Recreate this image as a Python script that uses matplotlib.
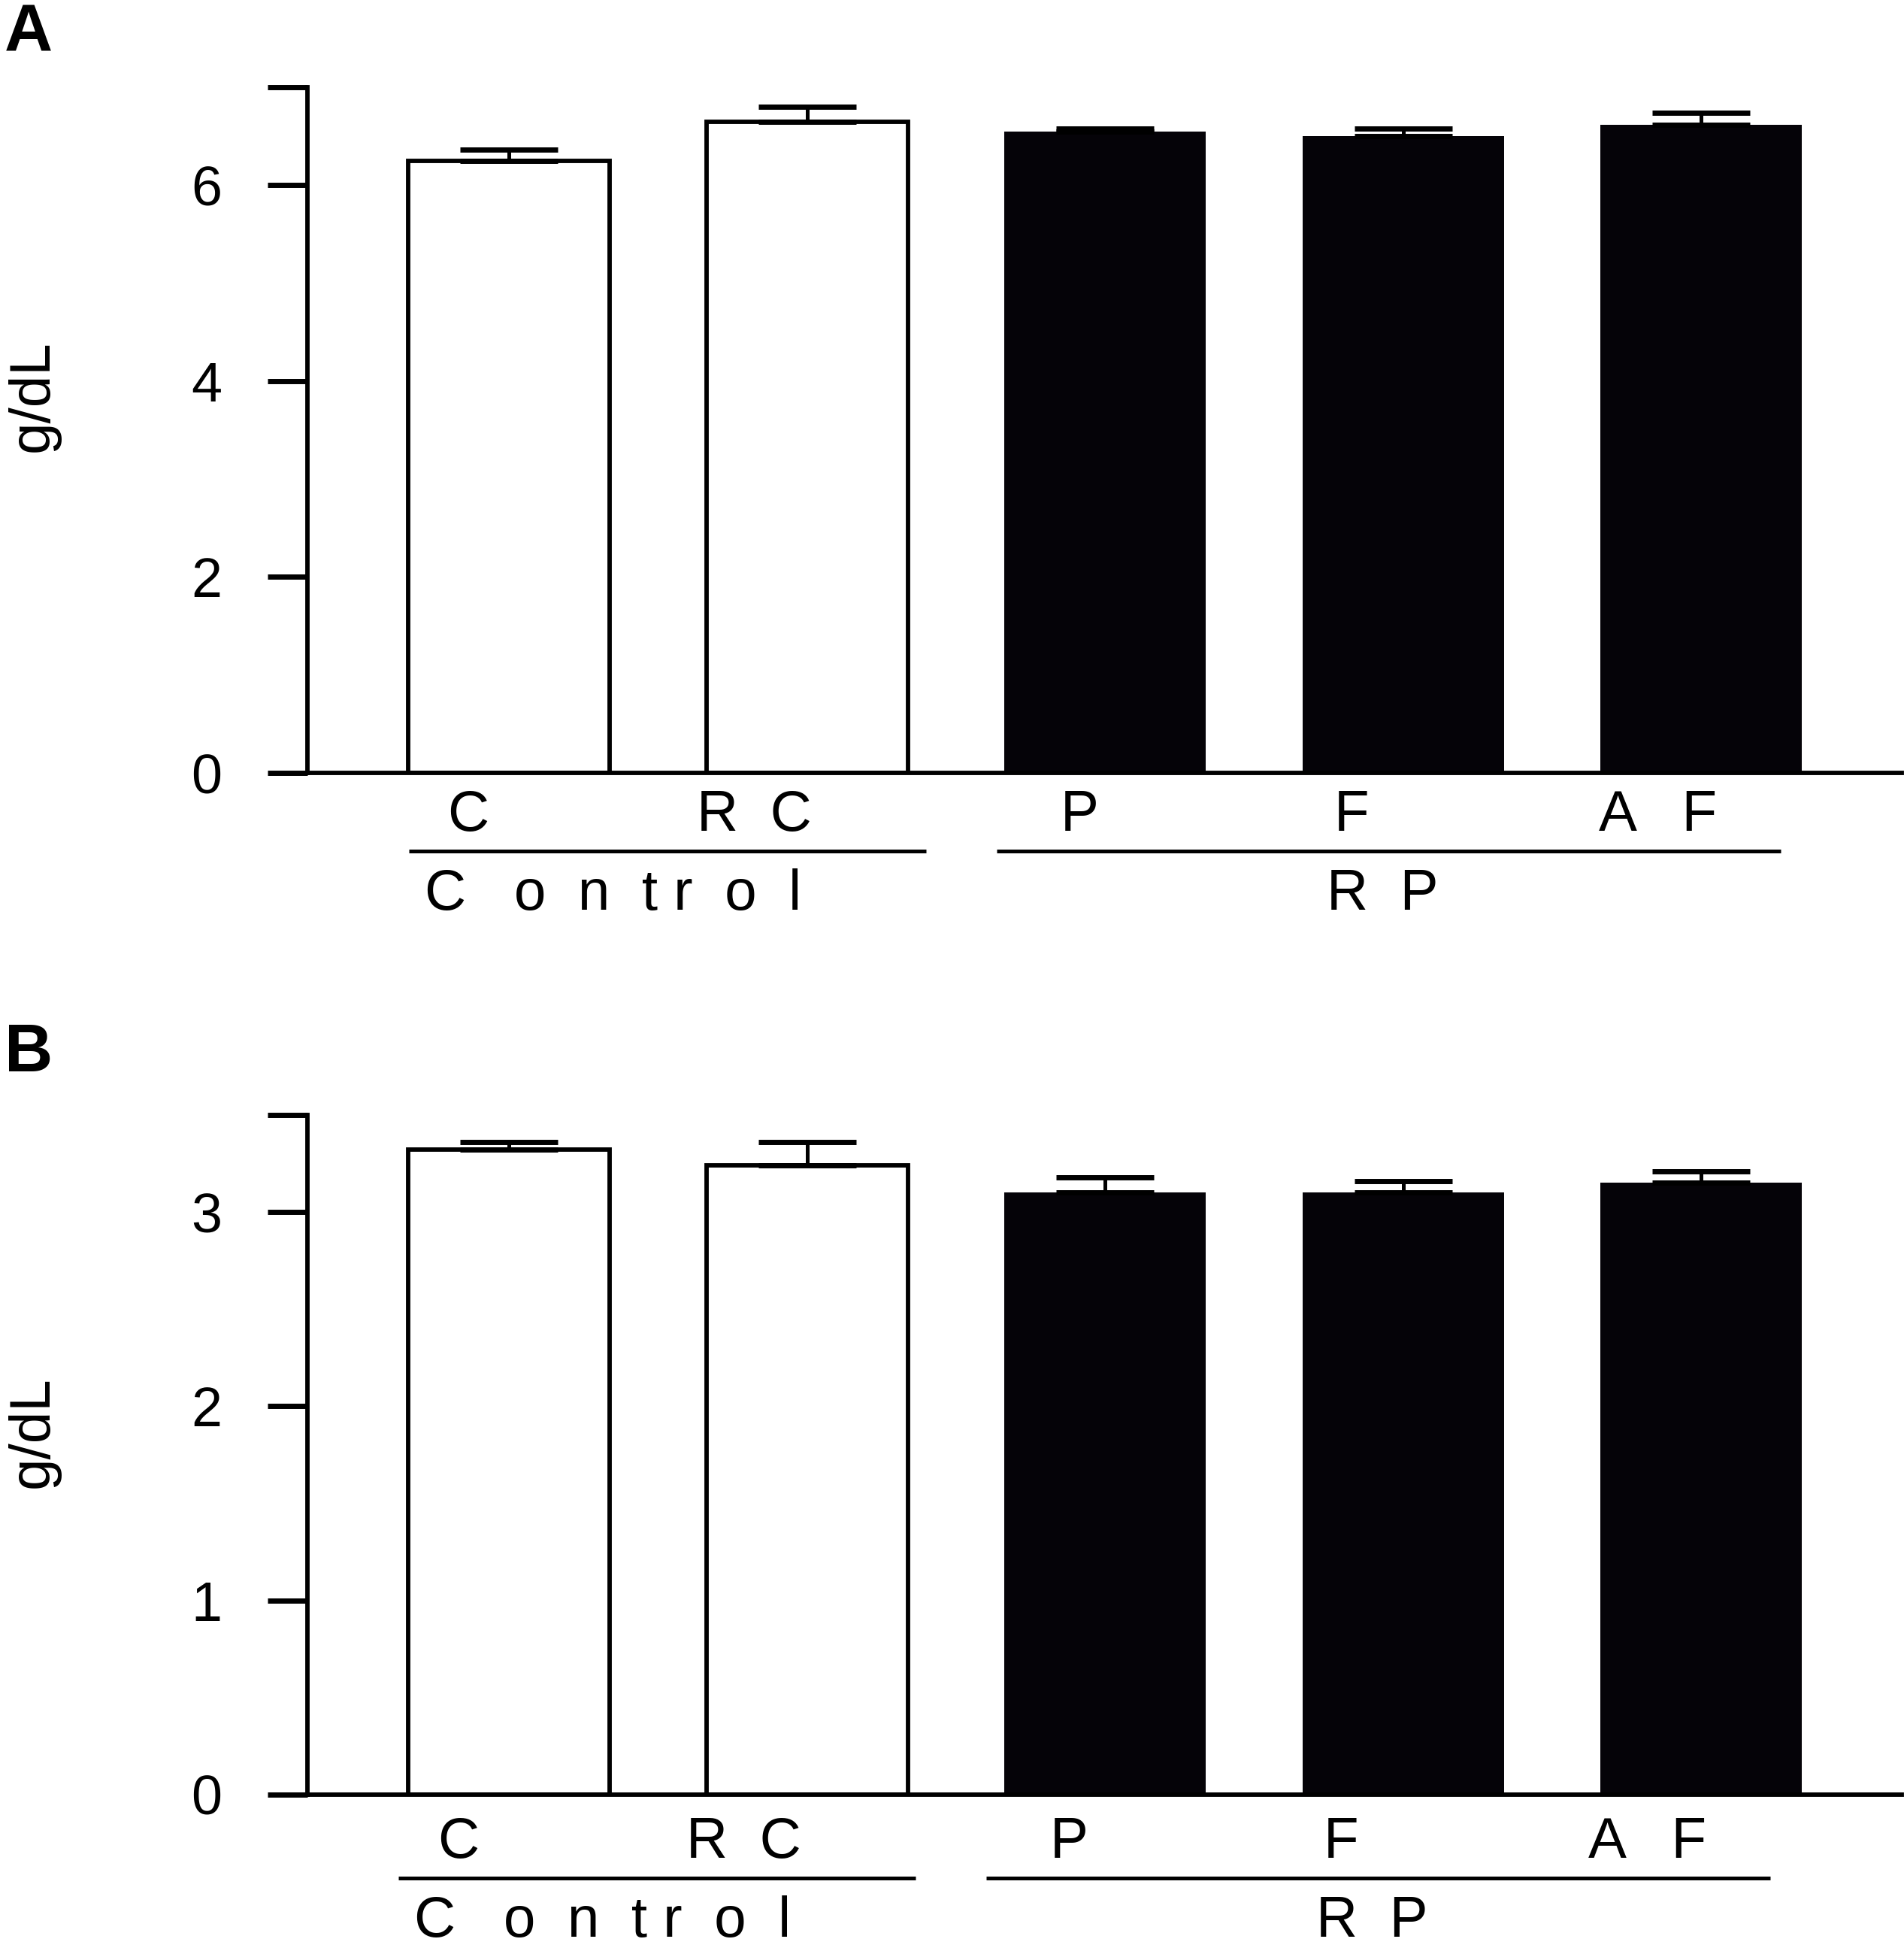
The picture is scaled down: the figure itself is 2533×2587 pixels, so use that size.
import numpy as np
import matplotlib
matplotlib.use('Agg')
import matplotlib.pyplot as plt
from matplotlib.transforms import offset_copy

plt.rcParams['font.family'] = ['Liberation Sans', 'DejaVu Sans']

# bar labels and groups
bar_labels = ['C', 'R  C', 'P', 'F', 'A   F']
group_labels = ['C   o  n  t r  o  l', 'R  P']
group_spans = [(-0.335, 1.40), (1.637, 4.267)]
group_text_x = [0.35, 2.93]
label_shift = [-0.136, -0.177, -0.086, -0.174, -0.146]

# panel A (g/dL)
mean_a = [6.25, 6.65, 6.55, 6.50, 6.62]
sem_a = [0.11, 0.15, 0.03, 0.08, 0.12]
# panel B (g/dL)
mean_b = [3.32, 3.24, 3.10, 3.10, 3.15]
sem_b = [0.04, 0.12, 0.08, 0.06, 0.06]

fills = ['white', 'white', '#050308', '#050308', '#050308']

W, H = 2533, 2587
fig = plt.figure(figsize=(W / 100, H / 100), dpi=100)

LW = 4.2
# black bars have no outline, white ones get a black edge
edge_lw = [LW if c == 'white' else 0 for c in fills]


def draw_panel(rect, means, errs, yticks, ylabels, ytop, dx, dy):
    ax = fig.add_axes(rect)
    x = np.arange(len(means))
    ax.bar(x, means, width=0.676, color=fills, edgecolor='black',
           linewidth=edge_lw, zorder=2)
    ax.errorbar(x, means, yerr=[np.zeros(len(errs)), errs], fmt='none',
                ecolor='black', elinewidth=3.6, capsize=47, capthick=5,
                zorder=3, clip_on=False)
    ax.set_xlim(-0.676, 4.673)
    ax.set_ylim(0, ytop)
    ax.set_yticks(yticks)
    ax.set_yticklabels(ylabels)
    ax.set_xticks([])
    ax.tick_params(axis='y', length=38, width=5, pad=44, labelsize=53,
                   direction='out')
    for s in ['top', 'right']:
        ax.spines[s].set_visible(False)
    for s in ['left', 'bottom']:
        ax.spines[s].set_linewidth(LW)

    xt = ax.get_xaxis_transform()
    t_lab = offset_copy(xt, fig=fig, y=-(55.4 + dy), units='points')
    t_line = offset_copy(xt, fig=fig, y=-(74.9 + dy), units='points')
    t_grp = offset_copy(xt, fig=fig, y=-(131 + dy), units='points')
    for i, lab in enumerate(bar_labels):
        ax.text(i + label_shift[i] + dx, 0, lab, transform=t_lab,
                ha='center', va='baseline', fontsize=55)
    for (x0, x1), gx, gl in zip(group_spans, group_text_x, group_labels):
        ax.plot([x0 + dx, x1 + dx], [0, 0], transform=t_line, color='black',
                lw=3.6, clip_on=False, solid_capstyle='butt')
        ax.text(gx + dx, 0, gl, transform=t_grp, ha='center',
                va='baseline', fontsize=55)
    return ax


left = 409 / W
width = 2530 / W - left
draw_panel([left, 1 - 1028 / H, width, (1028 - 116) / H], mean_a, sem_a,
           [0, 2, 4, 6, 7], ['0', '2', '4', '6', ''], 7, 0, 0)
draw_panel([left, 1 - 2387 / H, width, (2387 - 1483) / H], mean_b, sem_b,
           [0, 1, 2, 3, 3.5], ['0', '1', '2', '3', ''], 3.5, -0.035, 5)

fig.text(44 / W, 1 - 527 / H, 'g/dL', rotation=90, ha='center', va='center',
         fontsize=55)
fig.text(44 / W, 1 - 1905 / H, 'g/dL', rotation=90, ha='center', va='center',
         fontsize=55)

fig.text(6 / W, 1 - 4 / H, 'A', weight='bold', fontsize=64, ha='left', va='top')
fig.text(6 / W, 1 - 1360 / H, 'B', weight='bold', fontsize=64, ha='left', va='top')

fig.savefig('out.png', dpi=100)
